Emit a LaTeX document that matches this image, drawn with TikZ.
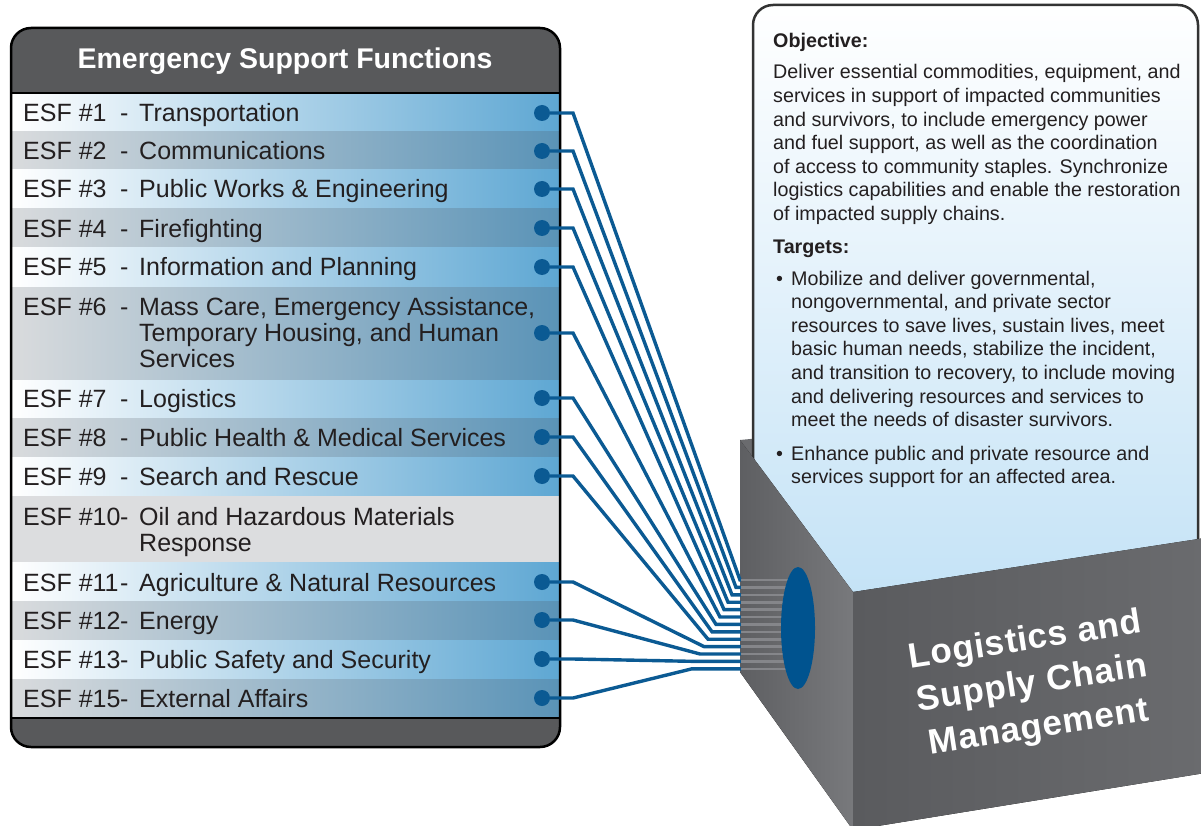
\documentclass[tikz,border=0pt]{standalone}
\usepackage{fontspec}
\setmainfont{Liberation Sans}
\usetikzlibrary{shapes.geometric}
\definecolor{hdrgray}{HTML}{58595B}
\definecolor{rowblue}{HTML}{5EA7D3}
\definecolor{rowgray}{HTML}{D9DBDD}
\definecolor{rowsteel}{HTML}{5A93B7}
\definecolor{flatgray}{HTML}{DCDDDF}
\definecolor{wireblue}{HTML}{0B5A93}
\definecolor{hubblue}{HTML}{00538F}
\definecolor{stripegray}{HTML}{85868A}
\definecolor{cardblue}{HTML}{C3E2F6}
\definecolor{cardedge}{HTML}{333333}
\definecolor{backgray}{HTML}{6A6B6E}
\definecolor{leftdark}{HTML}{5E5F62}
\definecolor{leftlight}{HTML}{78797C}
\definecolor{frontdark}{HTML}{5A5B5E}
\definecolor{frontlight}{HTML}{6A6B6E}
\definecolor{ink}{HTML}{231F20}
\tikzset{
  panel/.style={rounded corners=20, line width=2.5},
  oddrow/.style={left color=white, right color=rowblue},
  evenrow/.style={left color=rowgray, right color=rowsteel},
  flatrow/.style={fill=flatgray},
  esf/.style={anchor=base west, inner sep=0, text=ink, font=\fontsize{25}{26}\selectfont},
  title/.style={text=white, font=\bfseries\fontsize{28.5}{30}\selectfont},
  cardhead/.style={anchor=base west, inner sep=0, text=ink, font=\bfseries\fontsize{19.7}{23.6}\selectfont},
  cardtext/.style={anchor=base west, inner sep=0, text=ink, font=\fontsize{19.7}{23.6}\selectfont},
  dot/.style={circle, fill=wireblue, inner sep=0, minimum size=16},
  wire/.style={draw=wireblue, line width=3.4},
  stripe/.style={draw=stripegray, line width=2.6},
  hubstyle/.style={ellipse, fill=hubblue, inner sep=0, minimum width=34, minimum height=122},
  boxtext/.style={text=white, align=center, font=\bfseries\fontsize{35}{44}\selectfont\addfontfeature{LetterSpace=2.5}}
}
\begin{document}
\begin{tikzpicture}[x=1pt,y=-1pt]
  \useasboundingbox (0,0) rectangle (1201,826);
  \fill[backgray] (740,440) -- (1198,396) -- (1198,545) -- (853,592) -- cycle;
  \draw[panel, draw=cardedge, top color=white, bottom color=cardblue] (753,5) rectangle (1198,610);
  \node[cardhead] (obj) at (773,48) {Objective:};
  \node[cardtext] (objtxt) at (773,79) {\parbox[t]{425pt}{\raggedright Deliver essential commodities, equipment, and\\
    services in support of impacted communities\\
    and survivors, to include emergency power\\
    and fuel support, as well as the coordination\\
    of access to community staples. Synchronize\\
    logistics capabilities and enable the restoration\\
    of impacted supply chains.}};
  \node[cardhead] (tgt) at (773,254) {Targets:};
  \node[cardtext] (b1) at (776,285) {\textbullet};
  \node[cardtext] (t1) at (791,285) {\parbox[t]{405pt}{\raggedright Mobilize and deliver governmental,\\
    nongovernmental, and private sector\\
    resources to save lives, sustain lives, meet\\
    basic human needs, stabilize the incident,\\
    and transition to recovery, to include moving\\
    and delivering resources and services to\\
    meet the needs of disaster survivors.}};
  \node[cardtext] (b2) at (776,460) {\textbullet};
  \node[cardtext] (t2) at (791,460) {\parbox[t]{405pt}{\raggedright Enhance public and private resource and\\
    services support for an affected area.}};

  \fill[panel, hdrgray] (11,28) rectangle (560,747);
  \foreach \top/\bot/\sty in {93/132/oddrow, 132/170/evenrow, 170/209/oddrow, 209/248/evenrow,
      248/287/oddrow, 287/380/evenrow, 380/418/oddrow, 418/457/evenrow, 457/496/oddrow,
      496/562/flatrow, 562/601/oddrow, 601/640/evenrow, 640/679/oddrow, 679/718/evenrow}
    \path[\sty] (12,\top) rectangle (559,\bot);
  \draw[line width=1.5] (11,93) -- (560,93);
  \draw[line width=1.5] (11,718) -- (560,718);
  \draw[panel] (11,28) rectangle (560,747);
  \node[title] (head) at (285,61) {Emergency Support Functions};
  \foreach \num/\base/\txt in {1/122/Transportation, 2/160/Communications,
      3/198/Public Works \& Engineering, 4/237/Firefighting, 5/276/Information and Planning,
      6/315/{Mass Care, Emergency Assistance,\\Temporary Housing, and Human\\Services},
      7/407/Logistics, 8/446/Public Health \& Medical Services, 9/485/Search and Rescue,
      10/525/{Oil and Hazardous Materials\\Response}, 11/591/Agriculture \& Natural Resources,
      12/629/Energy, 13/668/Public Safety and Security, 15/707/External Affairs} {
    \node[esf] (n\num) at (23,\base) {ESF \#\num};
    \node[esf] (m\num) at (120,\base) {-};
    \node[esf] (f\num) at (139,\base) {\parbox[t]{410pt}{\txt}};
  }

  \fill[left color=leftdark, right color=leftlight] (740,440) -- (853,592) -- (853,830) -- (740,672) -- cycle;
  \fill[left color=frontdark, right color=frontlight] (853,592) -- (1205,538) -- (1205,773) -- (853,830) -- cycle;
  \coordinate (hc) at (798,628);
  \foreach \num/\y [count=\n from 0] in {1/113, 2/151, 3/189, 4/228, 5/267, 6/333, 7/398,
      8/437, 9/476, 11/582, 12/620, 13/659, 15/698} {
    \node[dot] (d\num) at (542,\y) {};
    \coordinate (h\num) at (573,\y);
    \coordinate (k\num) at (740-4*\n, 580+7.4*\n);
    \coordinate (e\num) at (741, 580+7.4*\n);
    \draw[wire] (d\num) -- (h\num) -- (k\num) -- (e\num);
    \draw[stripe] (e\num) -- (e\num -| hc);
  }
  \node[hubstyle] (hub) at (hc) {};
  \node[boxtext, rotate=8.8] (lscm) at (1032,685) {Logistics and\\Supply Chain\\Management};
\end{tikzpicture}
\end{document}
